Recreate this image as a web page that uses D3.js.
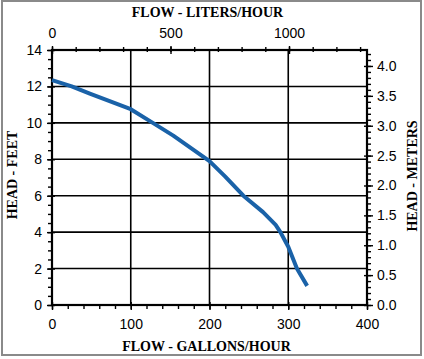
<!DOCTYPE html>
<html><head><meta charset="utf-8">
<script src="https://cdn.jsdelivr.net/npm/d3@7"></script>
<style>body{margin:0;background:#fff}svg{display:block}</style>
</head><body>
<script>
const gallons = [0, 25, 48, 100, 128, 154, 200, 220, 243, 268, 284, 290, 300, 311, 324];
const feet    = [12.35, 12.0, 11.6, 10.75, 10.0, 9.3, 7.9, 7.05, 6.0, 5.1, 4.4, 4.0, 3.2, 2.0, 1.05];
const galTicks = [0, 100, 200, 300, 400];
const literTicks = [0, 500, 1000];
const feetTicks = [0, 2, 4, 6, 8, 10, 12, 14];
const meterTicks = [0, 0.5, 1.0, 1.5, 2.0, 2.5, 3.0, 3.5, 4.0];

(function () {
const W = 424, H = 359;
const L = 52, R = 367, T = 50, B = 305;
const svg = d3.select("body").append("svg").attr("width", W).attr("height", H);

svg.append("rect").attr("x", 2).attr("y", 1).attr("width", 419).attr("height", 354)
  .attr("fill", "none").attr("stroke", "#8a8a8a").attr("stroke-width", 2);

const x = d3.scaleLinear().domain([0, 400]).range([L, R]);
const y = d3.scaleLinear().domain([0, 14]).range([B, T]);
const xL = d3.scaleLinear().domain([0, 1000]).range([L, 289]);
const yM = d3.scaleLinear().domain([0, 14 * 0.3048]).range([B, T]);

const font = "'Liberation Sans', Arial, sans-serif";
const serif = "'Liberation Serif', 'Times New Roman', serif";

const g = svg.append("g");
g.selectAll(".vg").data([100, 200, 300]).enter().append("line")
  .attr("x1", d => x(d)).attr("x2", d => x(d)).attr("y1", T).attr("y2", B)
  .attr("stroke", "#000").attr("stroke-width", 1.6);
g.selectAll(".hg").data([2, 4, 6, 8, 10, 12]).enter().append("line")
  .attr("x1", L).attr("x2", R).attr("y1", d => y(d)).attr("y2", d => y(d))
  .attr("stroke", "#000").attr("stroke-width", 1.6);

g.append("rect").attr("x", L).attr("y", T).attr("width", R - L).attr("height", B - T)
  .attr("fill", "none").attr("stroke", "#000").attr("stroke-width", 2.2);

function styleAxis(sel) {
  sel.select(".domain").remove();
  sel.selectAll("line").attr("stroke", "#000").attr("stroke-width", 1.4);
  sel.selectAll("text").attr("font-family", font).attr("font-size", 14).attr("fill", "#000");
}

const botMin = svg.append("g").attr("transform", `translate(0,${B})`);
botMin.call(d3.axisBottom(x).tickValues(d3.range(0, 401, 20)).tickSize(4).tickFormat(""));
botMin.call(styleAxis);
const botMaj = svg.append("g").attr("transform", `translate(0,${B})`)
  .call(d3.axisBottom(x).tickValues(galTicks).tickSize(5).tickPadding(9).tickFormat(d3.format("d")));
botMaj.call(styleAxis);
botMaj.selectAll(".tick line").attr("y1", -3);

const topMin = svg.append("g").attr("transform", `translate(0,${T})`);
topMin.call(d3.axisTop(xL).tickValues(d3.range(0, 1301, 100)).tickSize(3).tickFormat(""));
topMin.call(styleAxis);
topMin.selectAll(".tick line").attr("y2", -3).attr("y1", 2);
const topMaj = svg.append("g").attr("transform", `translate(0,${T})`)
  .call(d3.axisTop(xL).tickValues(literTicks).tickSize(4).tickPadding(8).tickFormat(d3.format("d")));
topMaj.call(styleAxis);
topMaj.selectAll(".tick line").attr("y1", 4);

const leftMin = svg.append("g").attr("transform", `translate(${L},0)`);
leftMin.call(d3.axisLeft(y).tickValues(d3.range(0, 14.01, 0.5)).tickSize(4).tickFormat(""));
leftMin.call(styleAxis);
const leftMaj = svg.append("g").attr("transform", `translate(${L},0)`)
  .call(d3.axisLeft(y).tickValues(feetTicks).tickSize(5).tickPadding(5).tickFormat(d3.format("d")));
leftMaj.call(styleAxis);
leftMaj.selectAll(".tick line").attr("x1", 3);

const rightMin = svg.append("g").attr("transform", `translate(${R},0)`);
rightMin.call(d3.axisRight(yM).tickValues(d3.range(0, 4.21, 0.1)).tickSize(4).tickFormat(""));
rightMin.call(styleAxis);
const rightMaj = svg.append("g").attr("transform", `translate(${R},0)`)
  .call(d3.axisRight(yM).tickValues(meterTicks).tickSize(6).tickPadding(4).tickFormat(d3.format(".1f")));
rightMaj.call(styleAxis);
rightMaj.selectAll(".tick line").attr("x1", -3);

const pts = gallons.map((gv, i) => [gv, feet[i]]);
svg.append("path").datum(pts)
  .attr("d", d3.line().x(d => x(d[0])).y(d => y(d[1])).curve(d3.curveLinear))
  .attr("fill", "none").attr("stroke", "#1a62a8").attr("stroke-width", 4)
  .attr("stroke-linejoin", "round").attr("stroke-linecap", "butt");

svg.append("text").attr("x", (L + R) / 2 - 2).attr("y", 17).attr("text-anchor", "middle")
  .attr("font-family", serif).attr("font-weight", "bold").attr("font-size", 14)
  .text("FLOW - LITERS/HOUR");
svg.append("text").attr("x", (L + R) / 2 - 3).attr("y", 351).attr("text-anchor", "middle")
  .attr("font-family", serif).attr("font-weight", "bold").attr("font-size", 14)
  .text("FLOW - GALLONS/HOUR");
svg.append("text").attr("transform", `translate(17,175) rotate(-90)`)
  .attr("text-anchor", "middle")
  .attr("font-family", serif).attr("font-weight", "bold").attr("font-size", 14)
  .text("HEAD - FEET");
svg.append("text").attr("transform", `translate(417,176) rotate(-90)`)
  .attr("text-anchor", "middle")
  .attr("font-family", serif).attr("font-weight", "bold").attr("font-size", 14)
  .text("HEAD - METERS");
})();
</script>
</body></html>
